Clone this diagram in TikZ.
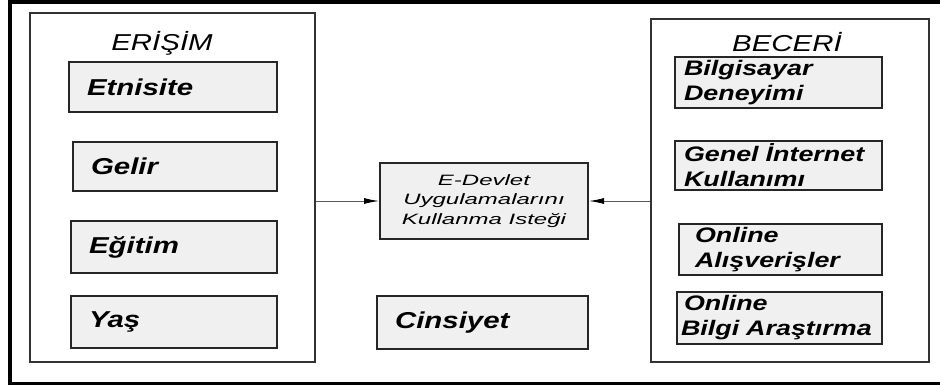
\documentclass[tikz,border=0pt]{standalone}
\usepackage{fontspec}
\usepackage{tikz}
\usetikzlibrary{arrows.meta,positioning,calc}
\newfontfamily\widesans[FakeStretch=1.28]{Liberation Sans}
\newfontfamily\wideronesans[FakeStretch=1.6]{Liberation Sans}

\begin{document}
\begin{tikzpicture}[x=1pt,y=-1pt,
      panel/.style={rectangle,draw=black!80,line width=1.5pt,inner sep=0pt},
      title/.style={font=\widesans\itshape\fontsize{23}{27}\selectfont,inner sep=0pt},
      factor/.style={rectangle,draw=black!85,line width=2pt,fill=black!6,
                     inner xsep=18pt,inner ysep=0pt,align=left,
                     font=\widesans\bfseries\itshape\fontsize{23}{27}\selectfont},
      skill/.style={rectangle,draw=black!85,line width=2pt,fill=black!6,
                    inner xsep=9pt,inner ysep=0pt,align=left,
                    font=\widesans\bfseries\itshape\fontsize{21}{25}\selectfont},
      intent/.style={rectangle,draw=black!85,line width=2pt,fill=black!6,
                     inner sep=0pt,align=center,
                     font=\wideronesans\itshape\fontsize{15}{19.5}\selectfont},
      arrow/.style={-{Latex[length=15pt,width=6pt,color=black]},draw=black!65,line width=1pt},
      >=Latex
    ]
    \useasboundingbox (0,0) rectangle (940,385);

    % Outer frame
    \draw[line width=4pt] (10,2) rectangle (946,383.5);

    % Access panel
    \node[panel,minimum width=285pt,minimum height=349pt] (erisim) at (172.5,187.5) {};
    \node[title] (erisimT) at (162,43) {ERİŞİM};
    \node[factor,text width=172pt,minimum height=50pt] (etni) at (173,87) {Etnisite};
    \node[factor,text width=168pt,minimum height=49pt] (gelir) at (175,166.5) {Gelir};
    \node[factor,text width=170pt,minimum height=52pt] (egitim) at (174,247) {Eğitim};
    \node[factor,text width=170pt,minimum height=52pt] (yas) at (174,322) {Yaş};

    % Skill panel
    \node[panel,minimum width=278pt,minimum height=343pt] (beceri) at (790,190.5) {};
    \node[title] (beceriT) at (787,42) {BECERİ};
    \node[skill,text width=189pt,minimum height=51pt] (bilgisayar) at (778.5,82.5)
      {Bilgisayar\\Deneyimi};
    \node[skill,text width=189pt,minimum height=49pt] (internet) at (778.5,165.5)
      {Genel İnternet\\Kullanımı};
    \node[skill,text width=171pt,minimum height=51pt,inner xsep=16pt] (alisveris) at (780.5,249.5)
      {Online\\Alışverişler};
    \node[skill,text width=197pt,minimum height=52pt,inner xsep=4pt] (arastirma) at (779.5,318)
      {\hspace*{3pt}Online\\Bilgi Araştırma};

    % Middle
    \node[intent,minimum width=208pt,minimum height=76pt] (istek) at (484,201)
      {E-Devlet\\Uygulamalarını\\Kullanma Isteği};
    \node[factor,text width=175pt,minimum height=53pt] (cinsiyet) at (482.5,322.5) {Cinsiyet};

    % Arrows
    \draw[arrow] (istek.west -| erisim.east) -- (istek.west);
    \draw[arrow] (istek.east -| beceri.west) -- (istek.east);

  \end{tikzpicture}
\end{document}
